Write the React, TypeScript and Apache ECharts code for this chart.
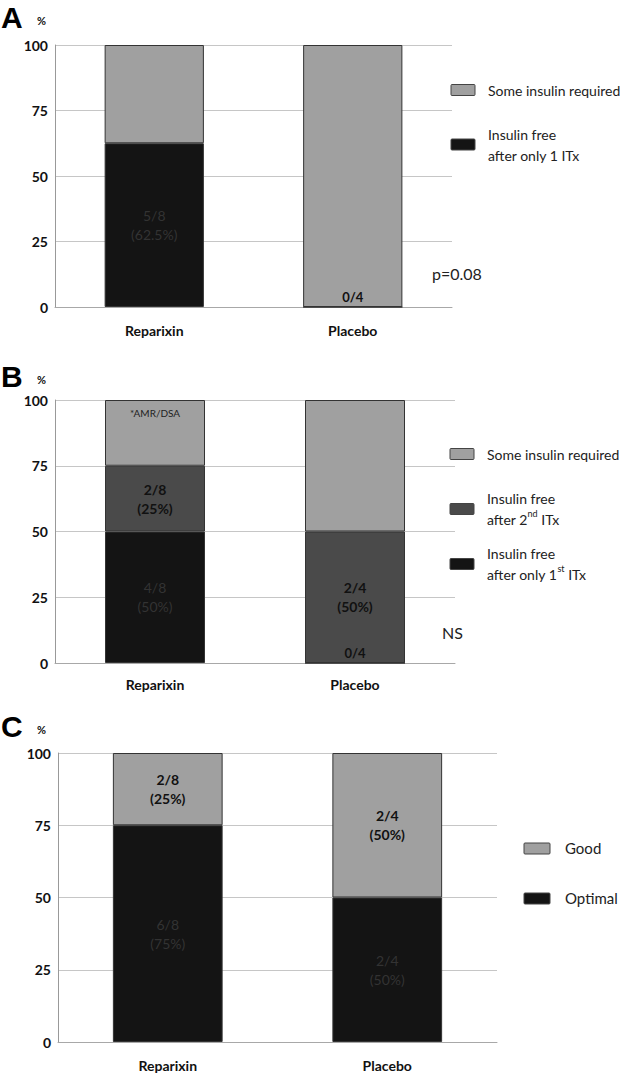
import React, { useEffect, useRef } from "react";
import * as echarts from "echarts";

const categories = ["Reparixin", "Placebo"];
const yTicks = [0, 25, 50, 75, 100];

// Panel A
const aFirstOnly = [62.5, 0];
const aSomeInsulin = [37.5, 100];
const aFirstOnlyLabels = ["5/8\n(62.5%)", "0/4"];

// Panel B
const bFirstOnly = [50, 0];
const bSecond = [25, 50];
const bSomeInsulin = [25, 50];
const bFirstOnlyLabels = ["4/8\n(50%)", "0/4"];
const bSecondLabels = ["2/8\n(25%)", "2/4\n(50%)"];
const bSomeLabels = ["*AMR/DSA", ""];

// Panel C
const cOptimal = [75, 50];
const cGood = [25, 50];
const cOptimalLabels = ["6/8\n(75%)", "2/4\n(50%)"];
const cGoodLabels = ["2/8\n(25%)", "2/4\n(50%)"];

const FONT = "Lato, 'Open Sans', sans-serif";
const LIGHT = "#a0a0a0";
const DARK = "#4a4a4a";
const BLACK = "#141414";
const BORDER = "#333333";

function darkLabelData(values: number[], labels: string[]) {
  return values.map((v, i) => ({
    value: v,
    label:
      v === 0
        ? {
            show: true,
            position: "top",
            distance: 3,
            formatter: labels[i],
            color: "#111",
            fontWeight: "bold",
            fontSize: 13,
            fontFamily: FONT,
          }
        : {
            show: true,
            position: "inside",
            formatter: labels[i],
            color: "#333333",
            fontSize: 14,
            lineHeight: 19,
            fontFamily: FONT,
          },
  }));
}

function boldLabelData(values: number[], labels: string[]) {
  return values.map((v, i) => ({
    value: v,
    label: {
      show: labels[i] !== "",
      position: "inside",
      formatter: labels[i],
      color: "#111",
      fontWeight: "bold",
      fontSize: 14,
      lineHeight: 19,
      fontFamily: FONT,
    },
  }));
}

function smallTopLabelData(values: number[], labels: string[]) {
  return values.map((v, i) => ({
    value: v,
    label: {
      show: labels[i] !== "",
      position: "insideTop",
      distance: 8,
      formatter: labels[i],
      color: "#222",
      fontSize: 10,
      fontFamily: FONT,
    },
  }));
}

function axisX(gridIndex: number, margin: number) {
  return {
    type: "category",
    gridIndex,
    data: categories,
    axisLine: { show: true, lineStyle: { color: "#a8a8a8", width: 1 } },
    axisTick: { show: false },
    axisLabel: {
      color: "#111",
      fontWeight: "bold",
      fontSize: 14,
      fontFamily: FONT,
      margin,
    },
  };
}

function axisY(gridIndex: number) {
  return {
    type: "value",
    gridIndex,
    min: yTicks[0],
    max: yTicks[yTicks.length - 1],
    interval: yTicks[1] - yTicks[0],
    axisLine: { show: true, lineStyle: { color: "#999", width: 1 } },
    axisTick: { show: false },
    splitLine: { show: true, lineStyle: { color: "#c6c6c6", width: 1 } },
    axisLabel: {
      color: "#111",
      fontWeight: "bold",
      fontSize: 14,
      fontFamily: FONT,
      margin: 7,
    },
  };
}

function bar(name: string, xi: number, stack: string, color: string, data: any[]) {
  return {
    type: "bar",
    name,
    xAxisIndex: xi,
    yAxisIndex: xi,
    stack,
    barWidth: "50%",
    itemStyle: { color, borderColor: BORDER, borderWidth: 1 },
    data,
  };
}

function swatch(x: number, y: number, fill: string) {
  return {
    type: "rect",
    shape: { x, y: y - 5.5, width: 24, height: 11, r: 1 },
    style: { fill, stroke: "#444", lineWidth: 1 },
  };
}

function legendText(x: number, y: number, text: string, size = 14) {
  return {
    type: "text",
    x,
    y,
    style: {
      text,
      fill: "#222",
      fontSize: size,
      fontFamily: FONT,
      lineHeight: 21,
      verticalAlign: "middle",
      align: "left",
      rich: {
        sup: { fontSize: 9, fill: "#222", fontFamily: FONT, verticalAlign: "top", lineHeight: 21, padding: [0, 0, 6, 0] },
      },
    },
  };
}

function panelLetter(y: number, letter: string) {
  return [
    {
      type: "text",
      x: 1,
      y,
      style: {
        text: letter,
        fill: "#000",
        fontSize: 30,
        fontWeight: 900,
        fontFamily: "'Liberation Sans', Arial, sans-serif",
        verticalAlign: "middle",
      },
    },
    {
      type: "text",
      x: 37,
      y: y + 3,
      style: {
        text: "%",
        fill: "#111",
        fontSize: 11,
        fontWeight: "bold",
        fontFamily: FONT,
        verticalAlign: "middle",
      },
    },
  ];
}

export default function App() {
  const ref = useRef<HTMLDivElement>(null);

  useEffect(() => {
    if (!ref.current) return;
    const chart = echarts.init(ref.current, undefined, { renderer: "svg" });
    const option: any = {
      animation: false,
      backgroundColor: "#ffffff",
      grid: [
        { left: 55, top: 45, width: 397, height: 262 },
        { left: 55, top: 400, width: 400, height: 263 },
        { left: 58, top: 753, width: 439, height: 289 },
      ],
      xAxis: [axisX(0, 16), axisX(1, 14), axisX(2, 16)],
      yAxis: [axisY(0), axisY(1), axisY(2)],
      series: [
        bar("Insulin free after only 1 ITx", 0, "a", BLACK, darkLabelData(aFirstOnly, aFirstOnlyLabels)),
        bar("Some insulin required", 0, "a", LIGHT, aSomeInsulin.map((v) => ({ value: v }))),
        bar("Insulin free after only 1st ITx", 1, "b", BLACK, darkLabelData(bFirstOnly, bFirstOnlyLabels)),
        bar("Insulin free after 2nd ITx", 1, "b", DARK, boldLabelData(bSecond, bSecondLabels)),
        bar("Some insulin required", 1, "b", LIGHT, smallTopLabelData(bSomeInsulin, bSomeLabels)),
        bar("Optimal", 2, "c", BLACK, darkLabelData(cOptimal, cOptimalLabels)),
        bar("Good", 2, "c", LIGHT, boldLabelData(cGood, cGoodLabels)),
      ],
      graphic: [
        ...panelLetter(17, "A"),
        ...panelLetter(376, "B"),
        ...panelLetter(726, "C"),
        // Legend A
        swatch(451, 90, LIGHT),
        legendText(488, 90, "Some insulin required"),
        swatch(451, 144.5, BLACK),
        legendText(488, 145, "Insulin free\nafter only 1 ITx"),
        {
          type: "text",
          x: 432,
          y: 273,
          style: { text: "p=0.08", fill: "#222", fontSize: 16, fontFamily: FONT, verticalAlign: "middle" },
        },
        // Legend B
        swatch(450, 454, LIGHT),
        legendText(487, 454, "Some insulin required"),
        swatch(450, 509, DARK),
        legendText(487, 509, "Insulin free\nafter 2{sup|nd} ITx"),
        swatch(450, 564, BLACK),
        legendText(487, 564, "Insulin free\nafter only 1{sup|st} ITx"),
        {
          type: "text",
          x: 442,
          y: 632,
          style: { text: "NS", fill: "#222", fontSize: 16, fontFamily: FONT, verticalAlign: "middle" },
        },
        // Legend C
        {
          type: "rect",
          shape: { x: 524, y: 843, width: 26, height: 11, r: 1 },
          style: { fill: LIGHT, stroke: "#444", lineWidth: 1 },
        },
        legendText(565, 848, "Good", 15),
        {
          type: "rect",
          shape: { x: 524, y: 893, width: 26, height: 11, r: 1 },
          style: { fill: BLACK, stroke: "#444", lineWidth: 1 },
        },
        legendText(565, 898, "Optimal", 15),
      ],
    };
    chart.setOption(option);
    return () => chart.dispose();
  }, []);

  return (
    <div
      ref={ref}
      style={{ position: "absolute", left: 0, top: 0, width: 620, height: 1075, background: "#fff" }}
    />
  );
}
